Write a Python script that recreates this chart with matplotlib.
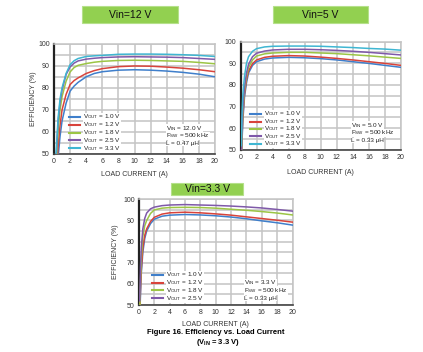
import matplotlib
matplotlib.use("Agg")
import matplotlib.pyplot as plt
from matplotlib.patches import Rectangle
from matplotlib.lines import Line2D

plt.rcParams['font.family'] = ['Liberation Sans', 'DejaVu Sans']
plt.rcParams['mathtext.default'] = 'regular'

# ---------------- data ----------------
vout_labels = ["1.0", "1.2", "1.8", "2.5", "3.3"]
colors = ["#3f7fcb", "#d8433b", "#9cc545", "#7f59a9", "#3fb6d2"]

# Vin = 12 V
x12_33 = [0.25, 0.5, 0.75, 1, 1.5, 2, 2.5, 3, 4, 5, 6, 8, 10, 12, 14, 16, 18, 20]
y12_33 = [50, 66, 75, 80, 86.5, 90.5, 92.3, 93.3, 94.2, 94.5, 94.7, 95.2, 95.3, 95.3, 95.2, 95.0, 94.7, 94.2]
x12_25 = [0.3, 0.5, 0.75, 1, 1.5, 2, 2.5, 3, 4, 5, 6, 8, 10, 12, 14, 16, 18, 20]
y12_25 = [50.5, 64, 73.5, 79, 86, 89.5, 91.2, 92.2, 93.0, 93.4, 93.7, 94.0, 94.1, 94.0, 93.9, 93.7, 93.3, 92.9]
x12_18 = [0.35, 0.5, 0.75, 1, 1.5, 2, 2.5, 3, 4, 5, 6, 8, 10, 12, 14, 16, 18, 20]
y12_18 = [50, 60, 70, 76, 83, 87.2, 89.2, 90.2, 91.0, 91.6, 92.0, 92.4, 92.5, 92.4, 92.2, 92.0, 91.5, 90.9]
x12_12 = [0.45, 0.5, 0.75, 1, 1.5, 2, 2.5, 3, 4, 5, 6, 8, 10, 12, 14, 16, 18, 20]
y12_12 = [50, 53, 63, 70, 77, 81.5, 83.3, 84.5, 86.5, 87.8, 88.7, 89.6, 89.9, 89.8, 89.4, 88.9, 88.2, 87.3]
x12_10 = [0.55, 0.75, 1, 1.5, 2, 2.5, 3, 4, 5, 6, 8, 10, 12, 14, 16, 18, 20]
y12_10 = [50, 58, 65, 73, 78.5, 80.8, 82.5, 85.0, 86.5, 87.3, 88.0, 88.2, 88.0, 87.6, 87.0, 86.2, 85.0]

# Vin = 5 V
x5_33 = [0.1, 0.2, 0.3, 0.5, 0.75, 1, 1.5, 2, 3, 4, 6, 8, 10, 12, 14, 16, 18, 20]
y5_33 = [52, 68, 76, 84, 90, 93, 95.5, 96.7, 97.5, 97.8, 97.9, 97.9, 97.8, 97.5, 97.2, 96.8, 96.5, 96.0]
x5_25 = [0.1, 0.2, 0.3, 0.5, 0.75, 1, 1.5, 2, 3, 4, 6, 8, 10, 12, 14, 16, 18, 20]
y5_25 = [50, 62, 70, 79, 85.5, 89.5, 93, 94.6, 95.6, 96.1, 96.4, 96.4, 96.2, 95.9, 95.5, 95.0, 94.4, 93.8]
x5_18 = [0.12, 0.2, 0.3, 0.5, 0.75, 1, 1.5, 2, 3, 4, 6, 8, 10, 12, 14, 16, 18, 20]
y5_18 = [50, 59, 68, 77.5, 84, 88, 91.5, 93.3, 94.3, 94.7, 95.0, 95.0, 94.7, 94.4, 93.9, 93.4, 92.8, 92.2]
x5_12 = [0.13, 0.2, 0.3, 0.5, 0.75, 1, 1.5, 2, 3, 4, 6, 8, 10, 12, 14, 16, 18, 20]
y5_12 = [50, 57, 66, 76, 82.5, 86.5, 89.8, 91.5, 92.7, 93.2, 93.5, 93.3, 92.8, 92.2, 91.5, 90.7, 89.9, 89.0]
x5_10 = [0.15, 0.2, 0.3, 0.5, 0.75, 1, 1.5, 2, 3, 4, 6, 8, 10, 12, 14, 16, 18, 20]
y5_10 = [50, 55, 64, 74.5, 81, 85.5, 89, 90.7, 91.9, 92.4, 92.7, 92.5, 92.1, 91.5, 90.7, 89.9, 89.0, 88.1]

# Vin = 3.3 V
x3_25 = [0.1, 0.2, 0.3, 0.5, 0.75, 1, 1.5, 2, 3, 4, 6, 8, 10, 12, 14, 16, 18, 20]
y3_25 = [52, 68, 77, 86, 91, 93.5, 95.5, 96.3, 97.0, 97.3, 97.5, 97.3, 97.1, 96.8, 96.4, 95.9, 95.2, 94.4]
x3_18 = [0.12, 0.2, 0.3, 0.5, 0.75, 1, 1.5, 2, 3, 4, 6, 8, 10, 12, 14, 16, 18, 20]
y3_18 = [50, 62, 72, 82.5, 87.5, 90, 93.3, 95.0, 95.8, 96.1, 96.2, 96.1, 95.8, 95.3, 94.8, 94.2, 93.5, 92.6]
x3_12 = [0.13, 0.2, 0.3, 0.5, 0.75, 1, 1.5, 2, 3, 4, 6, 8, 10, 12, 14, 16, 18, 20]
y3_12 = [50, 58, 67, 77, 83, 86, 89.5, 91.5, 93.0, 93.6, 93.9, 93.6, 93.1, 92.5, 91.7, 90.9, 90.1, 89.2]
x3_10 = [0.15, 0.2, 0.3, 0.5, 0.75, 1, 1.5, 2, 3, 4, 6, 8, 10, 12, 14, 16, 18, 20]
y3_10 = [50, 56, 65, 75, 81.5, 85, 88.5, 90.6, 92.0, 92.5, 92.8, 92.6, 92.2, 91.6, 90.8, 89.8, 88.9, 87.8]

xticks = [0, 2, 4, 6, 8, 10, 12, 14, 16, 18, 20]
yticks = [50, 60, 70, 80, 90, 100]

panels = [
    dict(title="Vin=12 V", series=[(x12_10, y12_10), (x12_12, y12_12), (x12_18, y12_18), (x12_25, y12_25), (x12_33, y12_33)],
         vin="12.0 V", ind="0.47", ylabel=True),
    dict(title="Vin=5 V", series=[(x5_10, y5_10), (x5_12, y5_12), (x5_18, y5_18), (x5_25, y5_25), (x5_33, y5_33)],
         vin="5.0 V", ind="0.33", ylabel=False),
    dict(title="Vin=3.3 V", series=[(x3_10, y3_10), (x3_12, y3_12), (x3_18, y3_18), (x3_25, y3_25)],
         vin="3.3 V", ind="0.33", ylabel=True),
]

# ---------------- layout (pixels) ----------------
W, H = 423, 352
fig = plt.figure(figsize=(W / 100, H / 100), dpi=100)

def fx(px):
    return px / W

def fy(py):
    return 1 - py / H

boxes = [(54, 215, 43.7, 154), (240.5, 401, 41.5, 150), (139, 292.5, 199.3, 305)]
title_boxes = [(82, 178, 6, 23), (273, 368, 6, 23), (171, 243, 183, 195)]
ylab_x = [33, 229, 115]
xlab_y = [175, 172, 324]
leg_x = [(69, 80, 83), (250, 261, 264), (152, 163, 166)]
leg_rows = [[117, 124.8, 132.6, 140.4, 148.2], [114, 121.5, 129, 136.5, 144], [275, 282.7, 290.4, 298.1]]
ann_x = [166, 351, 244]
ann_rows = [[128.5, 136, 143.5], [125.5, 133, 140.5], [283, 290.7, 298.2]]

FS = 4.6

for i, p in enumerate(panels):
    l, r, t, b = boxes[i]
    ax = fig.add_axes([fx(l), fy(b), fx(r) - fx(l), fy(t) - fy(b)])
    for j, (xs, ys) in enumerate(p["series"]):
        ax.plot(xs, ys, color=colors[j], lw=1.1, zorder=3)
    ax.set_xlim(0, 20)
    ax.set_ylim(50, 100)
    ax.set_xticks(xticks)
    ax.set_yticks(yticks)
    ax.set_yticks(list(range(55, 100, 10)), minor=True)
    ax.grid(True, which="both", color="#c4c4c4", lw=1.1, zorder=0)
    ax.tick_params(which="both", length=0, labelsize=5, colors="#333333", pad=3)
    for s in ["top", "right"]:
        ax.spines[s].set_color("#c4c4c4")
        ax.spines[s].set_linewidth(1.1)
    ax.spines["left"].set_color("#222222")
    ax.spines["left"].set_linewidth(1.6)
    ax.spines["bottom"].set_color("#444444")
    ax.spines["bottom"].set_linewidth(1.2)

    # manual legend
    x1, x2, xt = leg_x[i]
    for j, yr in enumerate(leg_rows[i]):
        fig.add_artist(Line2D([fx(x1), fx(x2)], [fy(yr), fy(yr)], color=colors[j], lw=1.5,
                              transform=fig.transFigure, zorder=5))
        fig.text(fx(xt), fy(yr), r"V$_{OUT}$ = " + vout_labels[j] + " V", fontsize=FS,
                 ha="left", va="center", color="#222222", zorder=5,
                 bbox=dict(facecolor="white", edgecolor="none", pad=0.0))

    # annotation
    ann_txt = ["V$_{IN}$ = " + p["vin"], "F$_{SW}$ = 500 kHz", "L = " + p["ind"] + " \u03bcH"]
    for k, yr in enumerate(ann_rows[i]):
        fig.text(fx(ann_x[i]), fy(yr), ann_txt[k], fontsize=FS, ha="left", va="center",
                 color="#222222", zorder=5,
                 bbox=dict(facecolor="white", edgecolor="none", pad=0.0))

    # axis labels
    if p["ylabel"]:
        fig.text(fx(ylab_x[i]), fy((t + b) / 2), "EFFICIENCY (%)", rotation=90,
                 fontsize=5, ha="center", va="center", color="#333333")
    fig.text(fx((l + r) / 2), fy(xlab_y[i]), "LOAD CURRENT (A)",
             fontsize=5, ha="center", va="center", color="#333333")

    # title box
    tl, tr, tt, tb = title_boxes[i]
    fig.add_artist(Rectangle((fx(tl), fy(tb)), fx(tr) - fx(tl), fy(tt) - fy(tb),
                             transform=fig.transFigure, facecolor="#92d050",
                             edgecolor="#b5e08a", lw=0.8))
    fig.text(fx((tl + tr) / 2), fy((tt + tb) / 2), p["title"], fontsize=7.5,
             ha="center", va="center", color="#111111")

fig.text(fx(216), fy(333), "Figure 16. Efficiency vs. Load Current",
         fontsize=5.5, fontweight="bold", ha="center", va="center")
fig.text(fx(218), fy(342), "(V$_{IN}$ = 3.3 V)",
         fontsize=5.5, fontweight="bold", ha="center", va="center")

fig.savefig("out.png", dpi=100)
